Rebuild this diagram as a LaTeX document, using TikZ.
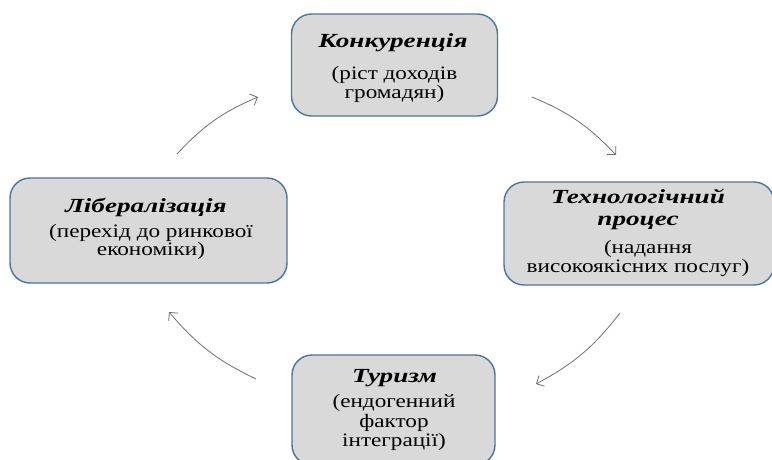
\documentclass[tikz,border=0pt]{standalone}
\usepackage{fontspec}
\setmainfont{Liberation Serif}[FakeStretch=1.22]
\newfontfamily\titlefont{Liberation Serif}[FakeStretch=1.36]
\usetikzlibrary{arrows.meta}
\definecolor{boxfill}{HTML}{D9D9D9}
\definecolor{boxline}{HTML}{4F739B}
\definecolor{arr}{HTML}{6E6E6E}
\tikzset{
  stage/.style={draw=boxline, line width=1.4pt, fill=boxfill, rounded corners=20pt,
    inner sep=0pt},
  ln/.style={anchor=base, inner sep=0pt, font=\fontsize{19}{19}\selectfont},
  tl/.style={anchor=base, inner sep=0pt, font=\titlefont\fontsize{20}{20}\selectfont\bfseries\itshape},
  flow/.style={draw=arr, line width=0.8pt, -{Straight Barb[length=6pt,width=12pt]}},
}
\begin{document}
\begin{tikzpicture}[x=1pt,y=-1pt]
\useasboundingbox (0,0) rectangle (772,459);
\begin{scope}
\clip (0,0) rectangle (772,459);
\node[stage, minimum width=206pt, minimum height=102pt] (konk) at (394.5,65) {};
\node[stage, minimum width=270pt, minimum height=103pt] (tech) at (639,233.5) {};
\node[stage, minimum width=277pt, minimum height=105pt] (lib) at (148.5,230.5) {};
\node[stage, minimum width=203pt, minimum height=110pt] (tur) at (393.5,410) {};
\end{scope}
% top box text
\node[tl] (k1) at (393,47) {Конкуренція};
\node[ln] (k2) at (394.5,79) {(ріст доходів};
\node[ln] (k3) at (394.5,98) {громадян)};
% right box text
\node[tl] (t1) at (638,203) {Технологічний};
\node[tl] (t2) at (638,225) {процес};
\node[ln] (t3) at (648,253) {(надання};
\node[ln] (t4) at (638,272) {високоякісних послуг)};
% left box text
\node[tl] (l1) at (146,212) {Лібералізація};
\node[ln] (l2) at (151,237) {(перехід до ринкової};
\node[ln] (l3) at (151,255) {економіки)};
% bottom box text
\node[tl] (u1) at (394.5,382) {Туризм};
\node[ln] (u2) at (394,407) {(ендогенний};
\node[ln] (u3) at (394,427) {фактор};
\node[ln] (u4) at (394,446) {інтеграції)};
\coordinate (a1s) at (177,154); \coordinate (a1e) at (258,97);
\coordinate (a2s) at (532,97);  \coordinate (a2e) at (616,155);
\coordinate (a3s) at (620,313); \coordinate (a3e) at (536,384);
\coordinate (a4s) at (256,379); \coordinate (a4e) at (169,312);
\draw[flow] (a1s) to[bend left=12] (a1e);
\draw[flow] (a2s) to[bend left=12] (a2e);
\draw[flow] (a3s) to[bend left=12] (a3e);
\draw[flow] (a4s) to[bend left=12] (a4e);
\end{tikzpicture}
\end{document}
